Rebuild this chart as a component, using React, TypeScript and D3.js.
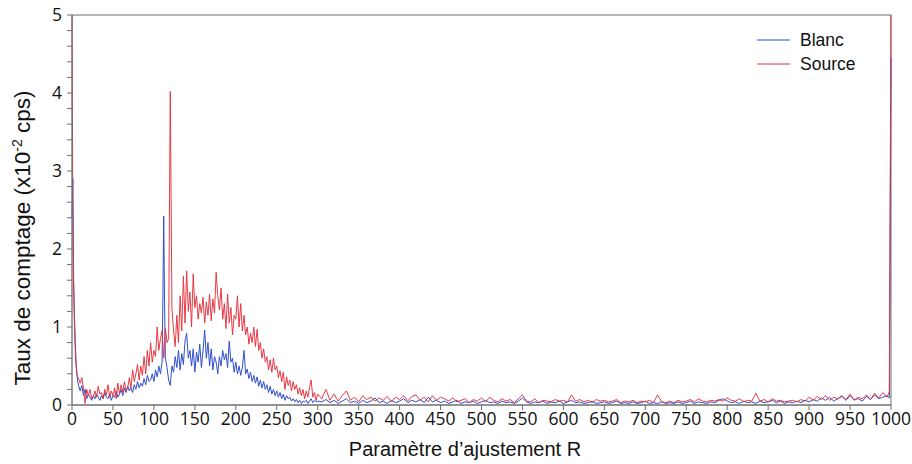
import React from "react";
import * as d3 from "d3";

// [R, value] pairs (x10^-2 cps)
const sourceData: [number, number][] = [
  [0, 5.3], [1, 2.4], [2, 1.5], [3, 1.0], [4, 0.7], [5, 0.5], [6, 0.4], [7, 0.36],
  [8, 0.34], [10, 0.28], [12, 0.35], [14, 0.22], [16, 0.02], [18, 0.2], [20, 0.12], [22, 0.2],
  [24, 0.08], [26, 0.1], [28, 0.18], [30, 0.1], [32, 0.24], [34, 0.14], [36, 0.16], [38, 0.08],
  [40, 0.2], [42, 0.13], [44, 0.26], [46, 0.1], [48, 0.18], [50, 0.12], [52, 0.22], [54, 0.08],
  [56, 0.28], [58, 0.14], [60, 0.26], [62, 0.16], [64, 0.3], [66, 0.18], [68, 0.22],
  [70, 0.35], [72, 0.22], [74, 0.45], [76, 0.3], [78, 0.4], [80, 0.52], [82, 0.32], [84, 0.5],
  [86, 0.38], [88, 0.62], [90, 0.4], [92, 0.7], [94, 0.5], [96, 0.8], [98, 0.55], [100, 0.7],
  [102, 0.62], [104, 1.0], [106, 0.7], [108, 0.85], [110, 0.95], [112, 0.6], [114, 0.98],
  [116, 0.8], [118, 0.85], [119, 2.5], [120, 4.02], [121, 2.65], [122, 1.25], [124, 0.95],
  [126, 0.75], [128, 1.15], [130, 0.8], [132, 1.4], [134, 0.95], [136, 1.65], [138, 1.05],
  [140, 1.72], [142, 1.2], [144, 1.45], [146, 1.0], [148, 1.68], [150, 1.25], [152, 1.4],
  [154, 1.1], [156, 1.3], [158, 1.18], [160, 1.38], [162, 1.05], [164, 1.32], [166, 1.15],
  [168, 1.42], [170, 1.08], [172, 1.36], [174, 1.18], [176, 1.7], [178, 1.4], [180, 1.22],
  [182, 1.5], [184, 1.1], [186, 1.3], [188, 0.98], [190, 1.42], [192, 1.05], [194, 1.25],
  [196, 0.9], [198, 1.15], [200, 1.1], [202, 1.4], [204, 1.0], [206, 1.3], [208, 0.95],
  [210, 1.15], [212, 0.9], [214, 1.0], [216, 0.78], [218, 0.92], [220, 0.8], [222, 1.0],
  [224, 0.75], [226, 0.97], [228, 0.7], [230, 0.8], [232, 0.6], [234, 0.72], [236, 0.55],
  [238, 0.62], [240, 0.45], [242, 0.58], [244, 0.42], [246, 0.6], [248, 0.45], [250, 0.5],
  [252, 0.35], [254, 0.44], [256, 0.3], [258, 0.42], [260, 0.2], [262, 0.36], [264, 0.25],
  [266, 0.32], [268, 0.18], [270, 0.3], [272, 0.2], [274, 0.26], [276, 0.14], [278, 0.22],
  [280, 0.12], [282, 0.2], [284, 0.08], [286, 0.18], [288, 0.1], [290, 0.22], [292, 0.32],
  [294, 0.1], [296, 0.16], [298, 0.06], [300, 0.14],
  [305, 0.08], [310, 0.2], [315, 0.06], [320, 0.14], [325, 0.05], [330, 0.12], [335, 0.18],
  [340, 0.06], [345, 0.1], [350, 0.04], [355, 0.12], [360, 0.07], [365, 0.1], [370, 0.05],
  [375, 0.09], [380, 0.06], [385, 0.11], [390, 0.04], [395, 0.1], [400, 0.07], [405, 0.12],
  [410, 0.05], [415, 0.11], [420, 0.13], [425, 0.06], [430, 0.1], [435, 0.04], [440, 0.12],
  [445, 0.06], [450, 0.1], [455, 0.08], [460, 0.05], [465, 0.09], [470, 0.04], [475, 0.06],
  [480, 0.08], [485, 0.03], [490, 0.07], [495, 0.05], [500, 0.09], [505, 0.04], [510, 0.1],
  [515, 0.06], [520, 0.04], [525, 0.08], [530, 0.05], [535, 0.07], [540, 0.03], [545, 0.08],
  [550, 0.13], [555, 0.05], [560, 0.04], [565, 0.08], [570, 0.03], [575, 0.06], [580, 0.05],
  [585, 0.04], [590, 0.07], [595, 0.05], [600, 0.06], [605, 0.04], [610, 0.13], [615, 0.05],
  [620, 0.07], [625, 0.04], [630, 0.06], [635, 0.03], [640, 0.07], [645, 0.05], [650, 0.06],
  [655, 0.04], [660, 0.05], [665, 0.07], [670, 0.03], [675, 0.05], [680, 0.04], [685, 0.06],
  [690, 0.03], [695, 0.05], [700, 0.04], [705, 0.06], [710, 0.03], [715, 0.13], [720, 0.04],
  [725, 0.03], [730, 0.05], [735, 0.03], [740, 0.06], [745, 0.04], [750, 0.05], [755, 0.07],
  [760, 0.04], [765, 0.08], [770, 0.05], [775, 0.04], [780, 0.06], [785, 0.05], [790, 0.07],
  [795, 0.05], [800, 0.09], [805, 0.06], [810, 0.05], [815, 0.08], [820, 0.04], [825, 0.06],
  [830, 0.05], [835, 0.15], [840, 0.05], [845, 0.07], [850, 0.04], [855, 0.08], [860, 0.05],
  [865, 0.06], [870, 0.04], [875, 0.05], [880, 0.06], [885, 0.04], [890, 0.07], [895, 0.05],
  [900, 0.1], [905, 0.06], [910, 0.11], [915, 0.07], [920, 0.12], [925, 0.06], [930, 0.1],
  [935, 0.08], [940, 0.12], [945, 0.07], [950, 0.14], [955, 0.06], [960, 0.1], [965, 0.08],
  [970, 0.13], [975, 0.07], [980, 0.15], [985, 0.09], [990, 0.16], [995, 0.1], [998, 0.17],
  [1000, 5.3],
];

const blancData: [number, number][] = [
  [0, 2.4], [1, 2.9], [2, 1.6], [3, 1.15], [4, 0.8], [5, 0.55], [6, 0.4], [7, 0.3],
  [8, 0.25], [10, 0.18], [12, 0.25], [14, 0.12], [16, 0.2], [18, 0.08], [20, 0.14], [22, 0.1],
  [24, 0.06], [26, 0.12], [28, 0.08], [30, 0.14], [32, 0.1], [34, 0.06], [36, 0.12], [38, 0.08],
  [40, 0.16], [42, 0.1], [44, 0.08], [46, 0.14], [48, 0.06], [50, 0.12], [52, 0.1], [54, 0.18],
  [56, 0.1], [58, 0.14], [60, 0.2], [62, 0.12], [64, 0.22], [66, 0.16], [68, 0.24], [70, 0.18],
  [72, 0.22], [74, 0.16], [76, 0.26], [78, 0.2], [80, 0.3], [82, 0.22], [84, 0.28], [86, 0.24],
  [88, 0.34], [90, 0.26], [92, 0.38], [94, 0.3], [96, 0.32], [98, 0.4], [100, 0.3], [102, 0.45],
  [104, 0.36], [106, 0.5], [108, 0.4], [110, 0.55], [111, 1.4], [112, 2.42], [113, 1.3],
  [114, 0.6], [116, 0.48], [118, 0.32], [120, 0.25], [122, 0.5], [124, 0.42], [126, 0.62],
  [128, 0.48], [130, 0.7], [132, 0.45], [134, 0.66], [136, 0.52], [138, 0.82], [140, 0.92],
  [142, 0.6], [144, 0.7], [146, 0.5], [148, 0.72], [150, 0.42], [152, 0.68], [154, 0.55],
  [156, 0.78], [158, 0.48], [160, 0.7], [162, 0.96], [164, 0.6], [166, 0.8], [168, 0.5],
  [170, 0.72], [172, 0.45], [174, 0.62], [176, 0.55], [178, 0.4], [180, 0.62], [182, 0.5],
  [184, 0.7], [186, 0.58], [188, 0.66], [190, 0.48], [192, 0.82], [194, 0.55], [196, 0.6],
  [198, 0.42], [200, 0.55], [202, 0.4], [204, 0.5], [206, 0.38], [208, 0.48], [210, 0.7],
  [212, 0.4], [214, 0.46], [216, 0.34], [218, 0.42], [220, 0.3], [222, 0.38], [224, 0.28],
  [226, 0.36], [228, 0.24], [230, 0.32], [232, 0.22], [234, 0.3], [236, 0.2], [238, 0.26],
  [240, 0.16], [242, 0.24], [244, 0.14], [246, 0.2], [248, 0.12], [250, 0.18], [252, 0.1],
  [254, 0.16], [256, 0.08], [258, 0.14], [260, 0.06], [262, 0.12], [264, 0.08], [266, 0.1],
  [268, 0.05], [270, 0.08], [272, 0.04], [274, 0.07], [276, 0.03], [278, 0.06], [280, 0.02],
  [282, 0.05], [284, 0.04], [286, 0.06], [288, 0.02], [290, 0.05], [292, 0.08], [294, 0.03],
  [296, 0.06], [298, 0.04], [300, 0.05],
  [305, 0.04], [310, 0.07], [315, 0.03], [320, 0.06], [325, 0.02], [330, 0.05], [335, 0.08],
  [340, 0.03], [345, 0.05], [350, 0.02], [355, 0.06], [360, 0.03], [365, 0.05], [370, 0.09],
  [375, 0.03], [380, 0.05], [385, 0.02], [390, 0.06], [395, 0.03], [400, 0.05], [405, 0.08],
  [410, 0.03], [415, 0.06], [420, 0.04], [425, 0.07], [430, 0.03], [435, 0.1], [440, 0.04],
  [445, 0.06], [450, 0.03], [455, 0.05], [460, 0.02], [465, 0.04], [470, 0.06], [475, 0.02],
  [480, 0.04], [485, 0.03], [490, 0.05], [495, 0.02], [500, 0.04], [505, 0.06], [510, 0.03],
  [515, 0.04], [520, 0.02], [525, 0.05], [530, 0.03], [535, 0.04], [540, 0.02], [545, 0.05],
  [550, 0.09], [555, 0.04], [560, 0.02], [565, 0.04], [570, 0.03], [575, 0.05], [580, 0.02],
  [585, 0.04], [590, 0.03], [595, 0.05], [600, 0.02], [605, 0.04], [610, 0.06], [615, 0.03],
  [620, 0.04], [625, 0.02], [630, 0.03], [635, 0.05], [640, 0.02], [645, 0.03], [650, 0.04],
  [655, 0.02], [660, 0.03], [665, 0.05], [670, 0.02], [675, 0.03], [680, 0.02], [685, 0.04],
  [690, 0.02], [695, 0.03], [700, 0.05], [705, 0.02], [710, 0.03], [715, 0.02], [720, 0.04],
  [725, 0.02], [730, 0.03], [735, 0.02], [740, 0.04], [745, 0.02], [750, 0.03], [755, 0.05],
  [760, 0.02], [765, 0.04], [770, 0.03], [775, 0.02], [780, 0.04], [785, 0.03], [790, 0.06],
  [795, 0.08], [800, 0.05], [805, 0.03], [810, 0.04], [815, 0.02], [820, 0.05], [825, 0.03],
  [830, 0.04], [835, 0.02], [840, 0.05], [845, 0.03], [850, 0.04], [855, 0.06], [860, 0.03],
  [865, 0.05], [870, 0.02], [875, 0.04], [880, 0.03], [885, 0.05], [890, 0.03], [895, 0.06],
  [900, 0.04], [905, 0.07], [910, 0.05], [915, 0.09], [920, 0.06], [925, 0.1], [930, 0.05],
  [935, 0.08], [940, 0.11], [945, 0.06], [950, 0.12], [955, 0.07], [960, 0.08], [965, 0.05],
  [970, 0.11], [975, 0.07], [980, 0.13], [985, 0.08], [990, 0.1], [995, 0.12], [998, 0.09],
  [1000, 4.45],
];

const xTicks = [0, 50, 100, 150, 200, 250, 300, 350, 400, 450, 500, 550, 600, 650, 700, 750, 800, 850, 900, 950, 1000];
const yLabelTicks = [0, 1, 2, 3, 4, 5];
const yMinorTicks = [0, 0.2, 0.4, 0.6, 0.8, 1, 1.2, 1.4, 1.6, 1.8, 2, 2.2, 2.4, 2.6, 2.8, 3, 3.2, 3.4, 3.6, 3.8, 4, 4.2, 4.4, 4.6, 4.8, 5];

const W = 912;
const H = 464;
const L = 72, R = 891, T = 15, B = 405;
const BLUE = "#2f4fd0";
const RED = "#e5303c";
const AXIS = "#6f6f6f";
const tickFont = "'Open Sans', 'DejaVu Sans', sans-serif";
const titleFont = "'Liberation Sans', Arial, sans-serif";

export default function App() {
  const x = d3.scaleLinear().domain([0, 1000]).range([L, R]);
  const y = d3.scaleLinear().domain([0, 5]).range([B, T]);
  const line = d3
    .line<[number, number]>()
    .x((d) => x(d[0]))
    .y((d) => y(d[1]));

  return (
    <svg width={W} height={H} style={{ position: "absolute", left: 0, top: 0, background: "#fff" }}>
      <defs>
        <clipPath id="plot">
          <rect x={L - 1} y={T} width={R - L + 2} height={B - T + 1} />
        </clipPath>
      </defs>
      <rect x={0} y={0} width={W} height={H} fill="#fff" />
      {/* frame */}
      <line x1={L} x2={R} y1={T} y2={T} stroke={AXIS} strokeWidth={1} />
      <line x1={R} x2={R} y1={T} y2={B} stroke={AXIS} strokeWidth={1} />
      <g clipPath="url(#plot)">
        <path d={line(blancData) || ""} fill="none" stroke={BLUE} strokeWidth={1} strokeLinejoin="round" />
        <path d={line(sourceData) || ""} fill="none" stroke={RED} strokeWidth={1} strokeLinejoin="round" strokeOpacity={0.95} />
      </g>
      {/* axes */}
      <line x1={L} x2={L} y1={T} y2={B} stroke={AXIS} strokeWidth={1.3} />
      <line x1={L} x2={R} y1={B} y2={B} stroke={AXIS} strokeWidth={1.3} />
      {yMinorTicks.map((t) => (
        <line key={"ym" + t} x1={L - 5} x2={L} y1={y(t)} y2={y(t)} stroke={AXIS} strokeWidth={1} />
      ))}
      {yLabelTicks.map((t) => (
        <text
          key={"yl" + t}
          x={L - 10}
          y={y(t)}
          dy="0.36em"
          textAnchor="end"
          fontFamily={tickFont}
          fontSize={17.5}
          fill="#111"
        >
          {t}
        </text>
      ))}
      {xTicks.map((t) => (
        <g key={"xt" + t}>
          <line x1={x(t)} x2={x(t)} y1={B} y2={B + 5} stroke={AXIS} strokeWidth={1} />
          <text x={x(t)} y={B + 20} textAnchor="middle" fontFamily={tickFont} fontSize={17.5} fill="#111">
            {t}
          </text>
        </g>
      ))}
      {/* titles */}
      <text x={465} y={456} textAnchor="middle" fontFamily={titleFont} fontSize={20} fill="#111">
        Paramètre d’ajustement R
      </text>
      <text
        transform={`translate(30, 238) rotate(-90)`}
        textAnchor="middle"
        fontFamily={titleFont}
        fontSize={22.5}
        fill="#111"
      >
        Taux de comptage (x10
        <tspan dy={-8} fontSize={14}>-2</tspan>
        <tspan dy={8}> cps)</tspan>
      </text>
      {/* legend */}
      <line x1={757} x2={790} y1={40} y2={40} stroke={BLUE} strokeWidth={1} />
      <text x={800} y={46} fontFamily={titleFont} fontSize={17.5} fill="#111">Blanc</text>
      <line x1={757} x2={790} y1={64} y2={64} stroke={RED} strokeWidth={1} />
      <text x={800} y={70} fontFamily={titleFont} fontSize={17.5} fill="#111">Source</text>
    </svg>
  );
}
